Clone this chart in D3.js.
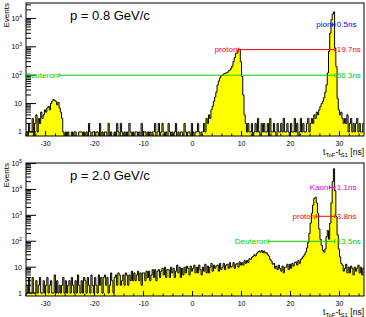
<!DOCTYPE html>
<html>
<head>
<meta charset="utf-8">
<script src="https://cdn.jsdelivr.net/npm/d3@7"></script>
<style>
body { margin: 0; background: #fff; }
svg { display: block; font-family: "Liberation Sans", Arial, sans-serif; }
</style>
</head>
<body>
<svg id="chart" width="366" height="317"></svg>
<script>
// histogram binning (ns)
var xLow = -34;
var binW = 0.25;
var xRange = [-34, 35];
var xMajor = [-30, -20, -10, 0, 10, 20, 30];

// p = 0.8 GeV/c, counts per 0.25 ns bin, starting at -34 ns
var countsP08 = [
  1,0,2,1, 1,3,0,2, 4,1,3,2, 5,3,4,6, 5,7,8,6,
  10,12,14,13, 12,9,11,7, 5,3,1,0, 1,0,1,0, 0,1,0,1,
  1,0,0,1, 1,1,0,1, 0,1,0,2, 1,0,1,1, 0,1,1,0,
  2,0,1,0, 1,1,0,2, 0,1,0,0, 1,0,2,1, 0,2,1,0,
  1,0,1,0, 2,1,0,1, 0,1,1,0, 1,0,2,0, 1,1,0,1,
  0,1,0,1, 1,2,0,1, 2,0,1,2, 1,0,1,0, 2,1,0,1,
  0,1,2,0, 1,0,1,1, 0,2,1,0, 1,1,0,2,
  1,0,1,1, 2,1,0,1, 1,2,1,3, 2,4,3,6, 8,12,17,25,
  45,62,80,95, 100,110,115,120, 125,140,150,170, 210,300,420,600, 600,780,820,300,
  90,20,4,2, 1,2,1,1, 2,0,1,2, 1,3,1,0, 2,1,2,1,
  1,2,0,3, 1,1,2,1, 0,2,1,1, 2,1,3,1, 1,2,1,0,
  2,1,1,3, 1,2,0,1, 3,1,2,1, 1,2,3,1, 2,3,2,4,
  3,5,4,6, 8,10,12,16, 25,45,120,700, 3000,9000,14000,17000, 900,200,15,6,
  4,5,3,2, 3,2,4,1, 2,3,1,2, 1,2,3,1, 2,1,1,2
];

// p = 2.0 GeV/c
var countsP20 = [
  2,1,4,1, 1,4,1,1, 3,1,2,4, 1,1,3,1, 2,4,1,2,
  3,1,1,5, 1,3,1,2, 1,2,4,1, 3,1,2,3, 1,4,2,1,
  3,1,5,2, 1,3,1,4, 3,1,4,2, 1,5,2,1, 4,2,1,5,
  2,4,1,4, 5,2,4,1, 2,6,3,1, 4,5,2,6, 5,2,3,5,
  2,6,5,2, 5,3,7,3, 6,3,5,7, 3,6,2,6, 6,3,7,4,
  7,3,5,8, 4,8,3,7, 8,4,7,9, 5,10,4,8, 8,4,10,6,
  9,4,7,12, 6,10,4,9, 5,10,6,11, 9,5,11,7,
  9,12,6,10, 6,12,8,5, 10,7,13,6, 11,6,10,14, 7,12,9,11,
  12,7,14,8, 10,14,8,12, 13,9,15,10, 11,15,9,13, 14,10,16,12,
  15,12,18,14, 18,15,21,20, 24,26,30,27, 34,38,42,38, 44,36,42,35,
  36,30,27,20, 17,13,14,9, 11,8,12,9, 7,11,6,10, 10,13,8,13,
  9,14,11,15, 16,12,18,14, 20,22,26,30, 38,55,90,200, 500,1200,2500,4500,
  5000,3000,1200,300, 120,70,45,38, 50,150,260,120, 500,3000,20000,63000, 9000,900,180,50,
  25,14,12,7, 9,13,6,10, 6,11,9,5, 10,7,9,12, 6,10,5,9
];

// time-of-flight separations relative to the pion peak
var pionPos = 29.05;
var namesP08 = ["pion", "proton", "Deuteron"];
var diffsP08 = [0.5, 19.7, 56.3];
var levelsP08 = [6000, 800, 100];
var colorsP08 = ["#0000ff", "#ff0000", "#00cc00"];

var namesP20 = ["Kaon", "proton", "Deuteron"];
var diffsP20 = [1.1, 3.8, 13.5];
var levelsP20 = [12000, 920, 100];
var colorsP20 = ["#e000e0", "#ff0000", "#00cc00"];

var svg = d3.select("#chart");
var frameL = 26, frameR = 364;

function drawPanel(cfg)
{
    var g = svg.append("g");
    var x = d3.scaleLinear().domain(xRange).range([frameL, frameR]);
    var y = d3.scaleLog().domain(cfg.yDomain).range([cfg.bottom, cfg.top]);

    var clipId = "clip" + cfg.id;
    g.append("clipPath").attr("id", clipId)
      .append("rect")
        .attr("x", frameL).attr("y", cfg.top)
        .attr("width", frameR - frameL).attr("height", cfg.bottom - cfg.top);

    var pts = [];
    cfg.counts.forEach(function(c, i) {
        var x0 = xLow + i * binW;
        pts.push({x: x0, v: c});
        pts.push({x: x0 + binW, v: c});
    });
    function yv(v) { return v > 0 ? y(v) : cfg.bottom + 1; }

    var area = d3.area()
        .x(function(d) { return x(d.x); })
        .y0(cfg.bottom)
        .y1(function(d) { return yv(d.v); });

    var line = d3.line()
        .x(function(d) { return x(d.x); })
        .y(function(d) { return yv(d.v); });

    var hg = g.append("g").attr("clip-path", "url(#" + clipId + ")");
    hg.append("path").datum(pts)
        .attr("d", area)
        .attr("fill", "#ffff00");
    hg.append("path").datum(pts)
        .attr("d", line)
        .attr("fill", "none")
        .attr("stroke", "#000")
        .attr("stroke-width", 1);

    // frame
    g.append("rect")
        .attr("x", frameL).attr("y", cfg.top)
        .attr("width", frameR - frameL).attr("height", cfg.bottom - cfg.top)
        .attr("fill", "none").attr("stroke", "#000").attr("stroke-width", 1);

    // x axis ticks
    var xMinor = d3.range(-34, 35.1, 2);
    xMinor.forEach(function(t) {
        var major = xMajor.indexOf(t) >= 0;
        g.append("line")
            .attr("x1", x(t)).attr("x2", x(t))
            .attr("y1", cfg.bottom).attr("y2", cfg.bottom - (major ? 5 : 2.5))
            .attr("stroke", "#000");
    });
    xMajor.forEach(function(t) {
        g.append("text")
            .attr("x", x(t)).attr("y", cfg.bottom + 9.5)
            .attr("text-anchor", "middle")
            .style("font-size", "7px")
            .text(t);
    });

    // y axis ticks (log)
    var decades = d3.range(0, 6).map(function(e) { return Math.pow(10, e); })
        .filter(function(v) { return v <= cfg.yDomain[1] * 1.001; });
    decades.forEach(function(d) {
        for (var k = 2; k <= 9; k++)
        {
            var v = d * k;
            if (v > cfg.yDomain[1]) break;
            g.append("line")
                .attr("x1", frameL).attr("x2", frameL + 5)
                .attr("y1", y(v)).attr("y2", y(v))
                .attr("stroke", "#000");
        }
        g.append("line")
            .attr("x1", frameL).attr("x2", frameL + 10)
            .attr("y1", y(d)).attr("y2", y(d))
            .attr("stroke", "#000");
        var e = Math.round(Math.log10(d));
        var lab = g.append("text")
            .attr("x", 22).attr("y", y(d) + 2.5)
            .attr("text-anchor", "end")
            .style("font-size", "7px");
        if (e == 0) lab.text("1");
        else if (e == 1) lab.text("10");
        else {
            lab.append("tspan").text("10");
            lab.append("tspan").attr("dy", -3).style("font-size", "5px").text(e);
        }
    });

    // axis titles
    var xt = g.append("text")
        .attr("x", frameR).attr("y", cfg.bottom + 19)
        .attr("text-anchor", "end")
        .style("font-size", "8.5px");
    xt.append("tspan").text("t");
    xt.append("tspan").attr("dy", 2).style("font-size", "6px").text("ToF");
    xt.append("tspan").attr("dy", -2).text("-t");
    xt.append("tspan").attr("dy", 2).style("font-size", "6px").text("S1");
    xt.append("tspan").attr("dy", -2).text(" [ns]");

    g.append("text")
        .attr("transform", "translate(9," + cfg.top + ") rotate(-90)")
        .attr("text-anchor", "end")
        .style("font-size", "8px")
        .text("Events");

    g.append("text")
        .attr("x", 70).attr("y", cfg.top + 16.5)
        .style("font-size", "13px")
        .text(cfg.title);

    // separation markers
    cfg.names.forEach(function(name, i) {
        var x1 = x(pionPos - cfg.diffs[i]), x2 = x(pionPos), yy = y(cfg.levels[i]);
        var col = cfg.colors[i];
        g.append("line")
            .attr("x1", x1).attr("x2", x2).attr("y1", yy).attr("y2", yy)
            .attr("stroke", col).attr("stroke-width", 1);
        [x1, x2].forEach(function(xx) {
            g.append("line")
                .attr("x1", xx).attr("x2", xx).attr("y1", yy - 2).attr("y2", yy + 2)
                .attr("stroke", col).attr("stroke-width", 1);
        });
        g.append("text")
            .attr("x", x1 - 1).attr("y", yy + 2.5)
            .attr("text-anchor", "end")
            .attr("fill", col)
            .style("font-size", "8px")
            .text(name);
        g.append("text")
            .attr("x", x2 + 2).attr("y", yy + 2.5)
            .attr("fill", col)
            .style("font-size", "8px")
            .text(cfg.diffs[i] + "ns");
    });
}

drawPanel({
    id: "a", top: 3, bottom: 136, yDomain: [0.72, 3.5e4],
    counts: countsP08, title: "p = 0.8 GeV/c",
    names: namesP08, diffs: diffsP08, levels: levelsP08, colors: colorsP08
});

drawPanel({
    id: "b", top: 163, bottom: 296, yDomain: [0.77, 1.05e5],
    counts: countsP20, title: "p = 2.0 GeV/c",
    names: namesP20, diffs: diffsP20, levels: levelsP20, colors: colorsP20
});
</script>
</body>
</html>
